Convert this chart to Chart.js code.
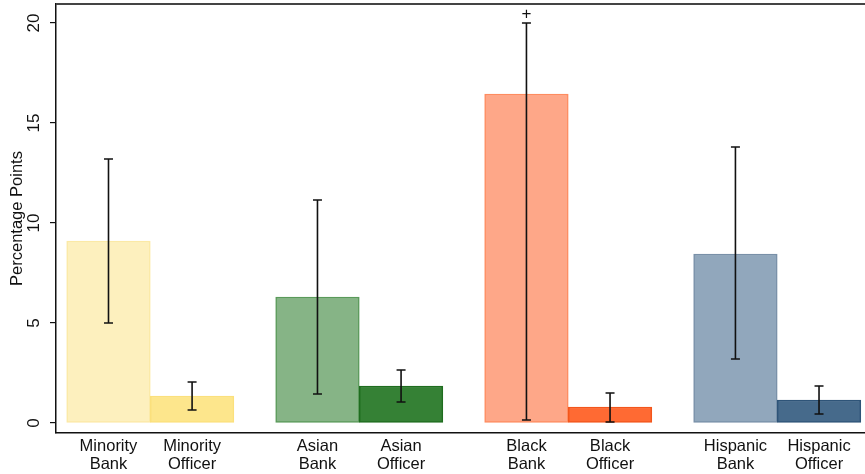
<!DOCTYPE html>
<html>
<head>
<meta charset="utf-8">
<script src="https://cdn.jsdelivr.net/npm/chart.js@4"></script>
<style>
  body { margin: 0; background: #fff; }
</style>
</head>
<body>
<canvas id="chart" width="865" height="474"></canvas>
<script>
// Datos
const labels = ['Minority Bank', 'Minority Officer', 'Asian Bank', 'Asian Officer', 'Black Bank', 'Black Officer', 'Hispanic Bank', 'Hispanic Officer'];
const xPos = [1, 2, 3.5, 4.5, 6, 7, 8.5, 9.5];
const means = [9.1, 1.35, 6.3, 1.85, 16.45, 0.8, 8.45, 1.15];
const ciLow = [5.0, 0.65, 1.45, 1.05, 0.15, 0.05, 3.2, 0.45];
const ciHigh = [13.2, 2.05, 11.15, 2.65, 20.0, 1.5, 13.8, 1.85];
const yTicks = [0, 5, 10, 15, 20];
// "+" marca sobre Black Bank (IC recortado)
const plusMark = {index: 4, y: 20.45};

const fills = ['#fdf0be', '#fde68c', '#86b486', '#358135', '#fea788', '#ff6a33', '#91a7bc', '#466a8b'];
const borders = ['#fbe9a6', '#fbe07c', '#5a9a5a', '#1f6d1f', '#fe8c60', '#f2561c', '#7990a8', '#2e5478'];

const FONT = "'Liberation Sans', Arial, Helvetica, sans-serif";

// Barras de error
const errorBars = {
  id: 'errorBars',
  afterDatasetsDraw(chart){
    const ctx = chart.ctx;
    const y = chart.scales.y;
    const meta = chart.getDatasetMeta(0);
    ctx.save();
    ctx.strokeStyle = '#111';
    ctx.lineWidth = 1.6;
    meta.data.forEach((bar, i)=>{
      const x = bar.x;
      const lo = y.getPixelForValue(ciLow[i]);
      const hi = y.getPixelForValue(ciHigh[i]);
      ctx.beginPath();
      ctx.moveTo(x, lo); ctx.lineTo(x, hi);
      ctx.moveTo(x-4.5, lo); ctx.lineTo(x+4.5, lo);
      ctx.moveTo(x-4.5, hi); ctx.lineTo(x+4.5, hi);
      ctx.stroke();
    });
    const pb = meta.data[plusMark.index];
    ctx.fillStyle = '#111';
    ctx.font = '17px ' + FONT;
    ctx.textAlign = 'center';
    ctx.textBaseline = 'middle';
    ctx.fillText('+', pb.x, y.getPixelForValue(plusMark.y));
    // linea superior del marco
    const a = chart.chartArea;
    ctx.strokeStyle = '#444';
    ctx.lineWidth = 2;
    ctx.beginPath();
    ctx.moveTo(a.left, a.top); ctx.lineTo(a.right, a.top);
    ctx.stroke();
    ctx.restore();
  }
};

new Chart(document.getElementById('chart').getContext('2d'), {
  type: 'bar',
  data: {
    datasets: [{
      data: xPos.map((x,i)=>({x: x, y: means[i]})),
      backgroundColor: fills,
      borderColor: borders,
      borderWidth: 1.5,
      borderSkipped: false,
      barPercentage: 1,
      categoryPercentage: 1
    }]
  },
  options: {
    responsive: false,
    animation: false,
    layout: {padding: {top: 4, right: 0, left: 0, bottom: 0}},
    plugins: {legend: {display: false}, tooltip: {enabled: false}},
    scales: {
      x: {
        type: 'linear',
        min: 0.372,
        max: 10.05,
        offset: false,
        grid: {display: false},
        border: {display: true, color: '#111', width: 1.5},
        afterBuildTicks: s => { s.ticks = xPos.map(v=>({value: v})); },
        afterFit: s => { s.height = 41; s.paddingLeft = 0; s.paddingRight = 0; },
        ticks: {
          autoSkip: false,
          maxRotation: 0,
          padding: -3,
          color: '#111',
          font: {family: FONT, size: 16.5, lineHeight: 1.05},
          callback: (v, i) => labels[i].split(' ')
        }
      },
      y: {
        min: -0.5,
        max: 20.95,
        grid: {display: true, drawOnChartArea: false, drawTicks: true, tickLength: 6, color: '#111', lineWidth: 1.2},
        border: {display: true, color: '#111', width: 1.5},
        afterBuildTicks: s => { s.ticks = yTicks.map(v=>({value: v})); },
        afterFit: s => { s.width = 56; s.paddingTop = 0; s.paddingBottom = 0; },
        title: {
          display: true,
          text: 'Percentage Points',
          color: '#111',
          padding: {top: 8, bottom: 0},
          font: {family: FONT, size: 16.5}
        },
        ticks: {
          minRotation: 90,
          maxRotation: 90,
          crossAlign: 'center',
          padding: 6,
          color: '#111',
          font: {family: FONT, size: 17}
        }
      }
    }
  },
  plugins: [errorBars]
});
</script>
</body>
</html>
